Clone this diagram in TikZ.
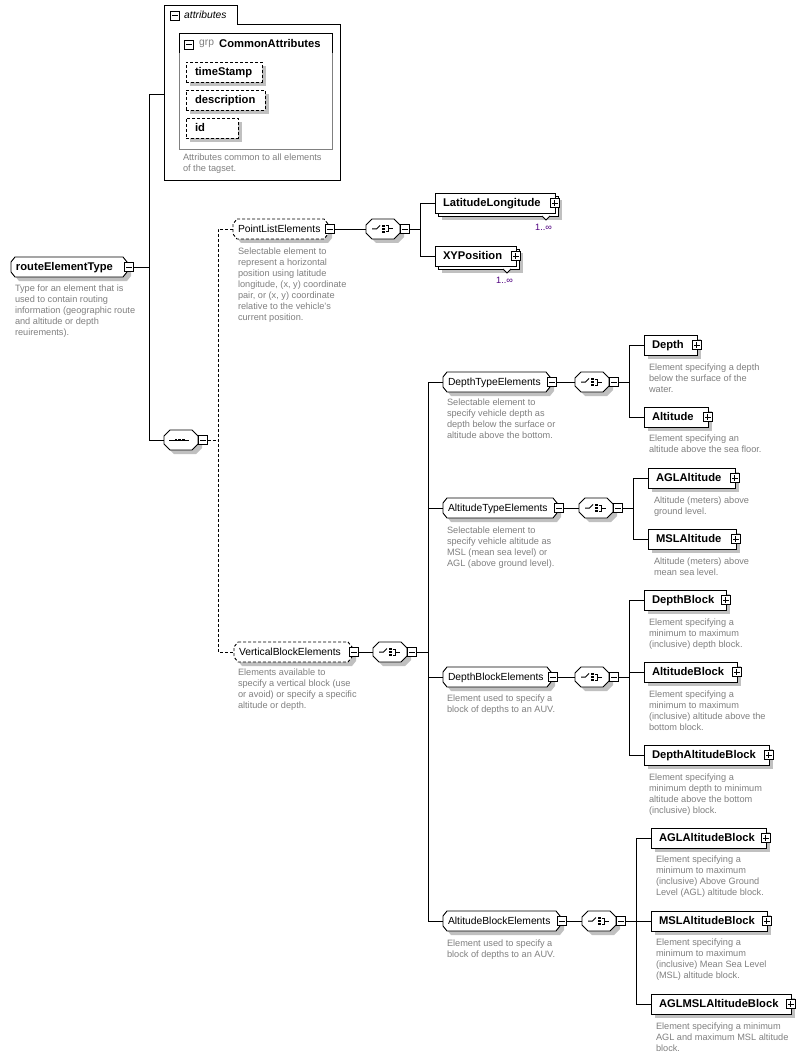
\documentclass[tikz,border=0pt]{standalone}
\usepackage{fontspec}
\setmainfont{Liberation Sans}
\pgfdeclarelayer{bg}
\pgfsetlayers{bg,main}
\definecolor{desccol}{RGB}{128,128,128}
\definecolor{shadcol}{RGB}{192,192,192}
\definecolor{occcol}{RGB}{80,0,128}
\newcommand\fbold{\fontsize{11.2}{13}\selectfont\bfseries}
\newcommand\fnorm{\fontsize{10.3}{12}\selectfont}
\newcommand\fdesc{\fontsize{9.2}{11}\selectfont}
\tikzset{
  nbase/.style={inner sep=0pt, outer sep=0pt, minimum height=20pt, anchor=west, text height=8pt, text depth=1pt},
  celem/.style={nbase, inner xsep=5pt},
  relem/.style={nbase, inner xsep=8pt, draw, fill=white},
  compbox/.style={nbase, minimum width=34pt},
  pmbox/.style={inner sep=0pt, outer sep=0pt, minimum width=9.5pt, minimum height=9.5pt, draw, fill=white, line width=0.8pt},
  descr/.style={anchor=north west, inner sep=0pt, outer sep=0pt, align=left, font=\fdesc, text=desccol},
  occ/.style={anchor=east, inner sep=0pt, outer sep=0pt, font=\fdesc, text=occcol},
  dsh/.style={dash pattern=on 3pt off 2pt},
  wire/.style={line width=0.9pt},
  bgline/.style={line width=0.9pt, draw=black},
}
\newcommand\chshape[6]{%
  \path[#6] ([shift={(#2+#4,#5)}]#1.north west) -- ([shift={(-#2+#4,#5)}]#1.north east)
    -- ([shift={(#4,#3+#5)}]#1.north east) -- ([shift={(#4,-#3+#5)}]#1.south east)
    -- ([shift={(-#2+#4,#5)}]#1.south east) -- ([shift={(#2+#4,#5)}]#1.south west)
    -- ([shift={(#4,-#3+#5)}]#1.south west) -- ([shift={(#4,#3+#5)}]#1.north west) -- cycle;}
\newcommand\minusglyph[1]{\draw[line width=0.8pt] ([xshift=2pt]#1.west) -- ([xshift=-2pt]#1.east);}
\newcommand\plusglyph[1]{\minusglyph{#1}\draw[line width=0.8pt] ([yshift=2pt]#1.south) -- ([yshift=-2pt]#1.north);}
% complex element: name, x, cy, width, font, outline style, text
\newcommand\CElem[7]{%
  \node[celem, minimum width=#4pt, font=#5] (#1) at (#2,#3) {\makebox[\dimexpr#4pt-10pt\relax][l]{#7}};
  \begin{pgfonlayer}{bg}
    \chshape{#1}{4}{5}{4}{4}{fill=shadcol}
    \chshape{#1}{4}{5}{0}{0}{bgline, fill=white, #6}
  \end{pgfonlayer}
  \node[pmbox, anchor=west] (#1-m) at ([xshift=-3pt]#1.east) {};
  \minusglyph{#1-m}}
% simple element: name, x, cy, width, text
\newcommand\RElem[5]{%
  \node[relem, minimum width=#4pt, font=\fbold] (#1) at (#2,#3) {\makebox[\dimexpr#4pt-16pt\relax][l]{#5}};
  \begin{pgfonlayer}{bg}
    \fill[shadcol] ([shift={(4,4)}]#1.north west) rectangle ([shift={(4,4)}]#1.south east);
  \end{pgfonlayer}
  \node[pmbox, anchor=west] (#1-p) at ([xshift=-5pt]#1.east) {};
  \plusglyph{#1-p}}
% repeated element
\newcommand\MElem[5]{%
  \node[relem, minimum width=#4pt, font=\fbold] (#1) at (#2,#3) {\makebox[\dimexpr#4pt-16pt\relax][l]{#5}};
  \begin{pgfonlayer}{bg}
    \fill[shadcol] ([shift={(7,7)}]#1.north west) rectangle ([shift={(7,7)}]#1.south east);
    \path[bgline, fill=white] ([shift={(3,3)}]#1.north west) rectangle ([shift={(3,3)}]#1.south east);
    \path[bgline, fill=white] ([shift={(-13,3)}]#1.south east) -- ([shift={(-9,7)}]#1.south east) -- ([shift={(-5,3)}]#1.south east);
  \end{pgfonlayer}
  \node[pmbox, anchor=west] (#1-p) at ([xshift=-5pt]#1.east) {};
  \plusglyph{#1-p}
  \node[occ] (#1-o) at ([shift={(-3,14)}]#1.south east) {1..∞};}
% attribute
\newcommand\AElem[5]{%
  \node[nbase, inner xsep=9pt, draw, dsh, fill=white, minimum width=#4pt, font=\fbold] (#1) at (#2,#3) {\makebox[\dimexpr#4pt-18pt\relax][l]{#5}};
  \begin{pgfonlayer}{bg}
    \fill[shadcol] ([shift={(4,4)}]#1.north west) rectangle ([shift={(4,4)}]#1.south east);
  \end{pgfonlayer}}
\newcommand\iconchoice{%
  \draw (-11,0) -- (-6.5,0) -- (-3,-3.5);
  \fill (-0.6,-4.2) rectangle (1.8,-1.9);
  \fill (-0.6,-1.15) rectangle (1.8,1.15);
  \fill (-0.6,1.9) rectangle (1.8,4.2);
  \draw (2.6,-3) -- (5.8,-3) -- (5.8,3) -- (2.6,3);
  \draw (5.8,0) -- (9.5,0);}
\newcommand\iconseq{%
  \draw (-12,0) -- (8,0);
  \fill (-6.4,-1.4) rectangle (-3.6,1.4);
  \fill (-2.6,-1.4) rectangle (0.2,1.4);
  \fill (1.2,-1.4) rectangle (4,1.4);}
\newcommand\Comp[4]{%
  \node[compbox] (#1) at (#2,#3) {};
  \begin{pgfonlayer}{bg}
    \chshape{#1}{6}{6}{4}{4}{fill=shadcol}
    \chshape{#1}{6}{6}{0}{0}{bgline, fill=white}
  \end{pgfonlayer}
  \begin{scope}[shift={(#1.center)}, line width=1pt]
    \csname icon#4\endcsname
  \end{scope}
  \node[pmbox, anchor=west] (#1-m) at (#1.east) {};
  \minusglyph{#1-m}}
\begin{document}
\begin{tikzpicture}[x=1pt, y=-1pt, line width=0.9pt]
\useasboundingbox (0,0) rectangle (805,1059);
\begin{pgfonlayer}{bg}
  \fill[white] (0,0) rectangle (805,1059);
  \path[bgline, fill=white] (164,5) -- (237,5) -- (237,24) -- (340,24) -- (340,180) -- (164,180) -- cycle;
\end{pgfonlayer}
% attributes panel
\node[pmbox, anchor=north west] (attrM) at (170,11) {};
\minusglyph{attrM}
\node[anchor=west, inner sep=0pt, font=\fnorm\itshape] (attrT) at (184,15) {attributes};
\draw[desccol] (179,33) rectangle (332,149);
\draw (179,53) -- (179,33) -- (332,33) -- (332,53);
\node[pmbox, anchor=north west] (grpM) at (184,40) {};
\minusglyph{grpM}
\node[anchor=west, inner sep=0pt, font=\fnorm, text=desccol] (grpK) at (199,44) {grp};
\node[anchor=west, inner sep=0pt, font=\fbold] (grpN) at (219,44) {CommonAttributes};
\AElem{aTS}{186}{72}{76}{timeStamp}
\AElem{aDesc}{186}{100}{79}{description}
\AElem{aId}{186}{128}{52}{id}
\node[descr] (dAttr) at (183,154) {Attributes common to all elements\\of the tagset.};
\coordinate (attrc) at (164,94);
% bars
\coordinate (b0) at (149,0);
\coordinate (b1) at (218,0);
\coordinate (b2) at (420,0);
\coordinate (b3) at (428,0);
\coordinate (b4) at (629,0);
\coordinate (b5) at (633,0);
\coordinate (b6) at (629,0);
\coordinate (b7) at (636,0);
% complex elements
\CElem{nRoute}{11}{267}{116}{\fbold}{solid}{routeElementType}
\CElem{nPoint}{233}{229}{95}{\fnorm}{dsh}{PointListElements}
\CElem{nVert}{234}{652}{118}{\fnorm}{dsh}{VerticalBlockElements}
\CElem{nDT}{443}{382}{107}{\fnorm}{solid}{DepthTypeElements}
\CElem{nAT}{443}{508}{114}{\fnorm}{solid}{AltitudeTypeElements}
\CElem{nDB}{443}{677}{108}{\fnorm}{solid}{DepthBlockElements}
\CElem{nAB}{443}{921}{117}{\fnorm}{solid}{AltitudeBlockElements}
% compositors
\Comp{cSeq}{164}{440}{seq}
\Comp{cPL}{366}{229}{choice}
\Comp{cVB}{373}{652}{choice}
\Comp{cDT}{575}{382}{choice}
\Comp{cAT}{579}{508}{choice}
\Comp{cDB}{575}{677}{choice}
\Comp{cAB}{582}{921}{choice}
% leaf elements
\MElem{eLL}{435}{203}{120}{LatitudeLongitude}
\MElem{eXY}{435}{256}{81}{XYPosition}
\RElem{eDepth}{644}{345}{53}{Depth}
\RElem{eAlt}{644}{417}{64}{Altitude}
\RElem{eAGL}{648}{478}{87}{AGLAltitude}
\RElem{eMSL}{648}{539}{88}{MSLAltitude}
\RElem{eDBk}{644}{600}{82}{DepthBlock}
\RElem{eABk}{644}{672}{93}{AltitudeBlock}
\RElem{eDAB}{644}{755}{125}{DepthAltitudeBlock}
\RElem{eAGLB}{651}{838}{115}{AGLAltitudeBlock}
\RElem{eMSLB}{651}{921}{116}{MSLAltitudeBlock}
\RElem{eAMB}{651}{1004}{140}{AGLMSLAltitudeBlock}
% descriptions
\node[descr] (dRoute) at (15,285) {Type for an element that is\\used to contain routing\\information (geographic route\\and altitude or depth\\reuirements).};
\node[descr] (dPoint) at (238,248) {Selectable element to\\represent a horizontal\\position using latitude\\longitude, (x, y) coordinate\\pair, or (x, y) coordinate\\relative to the vehicle's\\current position.};
\node[descr] (dVert) at (238,669) {Elements available to\\specify a vertical block (use\\or avoid) or specify a specific\\altitude or depth.};
\node[descr] (dDT) at (447,399) {Selectable element to\\specify vehicle depth as\\depth below the surface or\\altitude above the bottom.};
\node[descr] (dAT) at (447,527) {Selectable element to\\specify vehicle altitude as\\MSL (mean sea level) or\\AGL (above ground level).};
\node[descr] (dDB) at (447,695) {Element used to specify a\\block of depths to an AUV.};
\node[descr] (dAB) at (447,940) {Element used to specify a\\block of depths to an AUV.};
\node[descr] (dDepth) at (649,364) {Element specifying a depth\\below the surface of the\\water.};
\node[descr] (dAlt) at (649,435) {Element specifying an\\altitude above the sea floor.};
\node[descr] (dAGL) at (654,497) {Altitude (meters) above\\ground level.};
\node[descr] (dMSL) at (654,558) {Altitude (meters) above\\mean sea level.};
\node[descr] (dDBk) at (649,619) {Element specifying a\\minimum to maximum\\(inclusive) depth block.};
\node[descr] (dABk) at (649,691) {Element specifying a\\minimum to maximum\\(inclusive) altitude above the\\bottom block.};
\node[descr] (dDAB) at (649,774) {Element specifying a\\minimum depth to minimum\\altitude above the bottom\\(inclusive) block.};
\node[descr] (dAGLB) at (656,856) {Element specifying a\\minimum to maximum\\(inclusive) Above Ground\\Level (AGL) altitude block.};
\node[descr] (dMSLB) at (656,939) {Element specifying a\\minimum to maximum\\(inclusive) Mean Sea Level\\(MSL) altitude block.};
\node[descr] (dAMB) at (656,1023) {Element specifying a minimum\\AGL and maximum MSL altitude\\block.};
% connectors
\draw[wire] (attrc) -- (attrc -| b0) -- (cSeq.west -| b0) -- (cSeq.west);
\draw[wire] (nRoute-m.east) -- (nRoute-m.east -| b0);
\draw[wire,dsh] (cSeq-m.east) -- (cSeq-m.east -| b1);
\draw[wire,dsh] (nPoint.west) -- (nPoint.west -| b1) -- (nVert.west -| b1) -- (nVert.west);
\draw[wire] (nPoint-m.east) -- (cPL.west);
\draw[wire] (cPL-m.east) -- (cPL-m.east -| b2);
\draw[wire] (eLL.west) -- (eLL.west -| b2) -- (eXY.west -| b2) -- (eXY.west);
\draw[wire] (nVert-m.east) -- (cVB.west);
\draw[wire] (cVB-m.east) -- (cVB-m.east -| b3);
\draw[wire] (nDT.west) -- (nDT.west -| b3) -- (nAB.west -| b3) -- (nAB.west);
\draw[wire] (nAT.west) -- (nAT.west -| b3);
\draw[wire] (nDB.west) -- (nDB.west -| b3);
\draw[wire] (nDT-m.east) -- (cDT.west);
\draw[wire] (cDT-m.east) -- (cDT-m.east -| b4);
\draw[wire] (eDepth.west) -- (eDepth.west -| b4) -- (eAlt.west -| b4) -- (eAlt.west);
\draw[wire] (nAT-m.east) -- (cAT.west);
\draw[wire] (cAT-m.east) -- (cAT-m.east -| b5);
\draw[wire] (eAGL.west) -- (eAGL.west -| b5) -- (eMSL.west -| b5) -- (eMSL.west);
\draw[wire] (nDB-m.east) -- (cDB.west);
\draw[wire] (cDB-m.east) -- (cDB-m.east -| b6);
\draw[wire] (eDBk.west) -- (eDBk.west -| b6) -- (eDAB.west -| b6) -- (eDAB.west);
\draw[wire] (eABk.west) -- (eABk.west -| b6);
\draw[wire] (nAB-m.east) -- (cAB.west);
\draw[wire] (cAB-m.east) -- (cAB-m.east -| b7);
\draw[wire] (eAGLB.west) -- (eAGLB.west -| b7) -- (eAMB.west -| b7) -- (eAMB.west);
\draw[wire] (eMSLB.west) -- (eMSLB.west -| b7);
\end{tikzpicture}
\end{document}
